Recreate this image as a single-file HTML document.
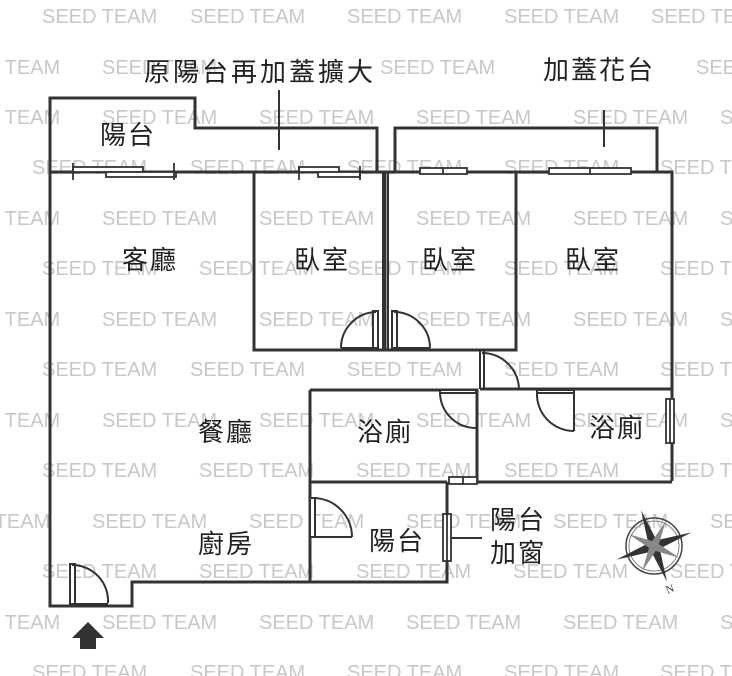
<!DOCTYPE html>
<html><head><meta charset="utf-8"><style>
html,body{margin:0;padding:0;background:#fff}
svg{display:block}
.w{font-family:"Liberation Sans",sans-serif;font-size:20px;fill:#c8c8c8}
.l{font-family:"Liberation Sans","Noto Sans CJK TC",sans-serif;font-size:26px;fill:#222;text-anchor:middle;dominant-baseline:central;letter-spacing:2px}
</style></head><body>
<svg width="732" height="676" viewBox="0 0 732 676" xmlns="http://www.w3.org/2000/svg">
<g class="w">
<text x="42" y="23">SEED TEAM</text><text x="190" y="23">SEED TEAM</text><text x="347" y="23">SEED TEAM</text><text x="504" y="23">SEED TEAM</text><text x="651" y="23">SEED TEAM</text>
<text x="-55" y="74">SEED TEAM</text><text x="102" y="74">SEED TEAM</text><text x="380" y="74">SEED TEAM</text><text x="696" y="74">SEED TEAM</text>
<text x="-55" y="124">SEED TEAM</text><text x="102" y="124">SEED TEAM</text><text x="259" y="124">SEED TEAM</text><text x="416" y="124">SEED TEAM</text><text x="573" y="124">SEED TEAM</text><text x="720" y="124">SEED TEAM</text>
<text x="32" y="174">SEED TEAM</text><text x="190" y="174">SEED TEAM</text><text x="347" y="174">SEED TEAM</text><text x="504" y="174">SEED TEAM</text><text x="660" y="174">SEED TEAM</text>
<text x="-55" y="225">SEED TEAM</text><text x="102" y="225">SEED TEAM</text><text x="259" y="225">SEED TEAM</text><text x="416" y="225">SEED TEAM</text><text x="573" y="225">SEED TEAM</text><text x="720" y="225">SEED TEAM</text>
<text x="42" y="275">SEED TEAM</text><text x="199" y="275">SEED TEAM</text><text x="347" y="275">SEED TEAM</text><text x="504" y="275">SEED TEAM</text><text x="660" y="275">SEED TEAM</text>
<text x="-55" y="326">SEED TEAM</text><text x="102" y="326">SEED TEAM</text><text x="259" y="326">SEED TEAM</text><text x="416" y="326">SEED TEAM</text><text x="573" y="326">SEED TEAM</text><text x="720" y="326">SEED TEAM</text>
<text x="42" y="376">SEED TEAM</text><text x="190" y="376">SEED TEAM</text><text x="347" y="376">SEED TEAM</text><text x="504" y="376">SEED TEAM</text><text x="660" y="376">SEED TEAM</text>
<text x="-55" y="427">SEED TEAM</text><text x="102" y="427">SEED TEAM</text><text x="259" y="427">SEED TEAM</text><text x="416" y="427">SEED TEAM</text><text x="573" y="427">SEED TEAM</text><text x="720" y="427">SEED TEAM</text>
<text x="42" y="477">SEED TEAM</text><text x="199" y="477">SEED TEAM</text><text x="356" y="477">SEED TEAM</text><text x="504" y="477">SEED TEAM</text><text x="660" y="477">SEED TEAM</text>
<text x="-65" y="528">SEED TEAM</text><text x="92" y="528">SEED TEAM</text><text x="249" y="528">SEED TEAM</text><text x="406" y="528">SEED TEAM</text><text x="553" y="528">SEED TEAM</text><text x="710" y="528">SEED TEAM</text>
<text x="42" y="578">SEED TEAM</text><text x="199" y="578">SEED TEAM</text><text x="356" y="578">SEED TEAM</text><text x="513" y="578">SEED TEAM</text><text x="670" y="578">SEED TEAM</text>
<text x="-55" y="629">SEED TEAM</text><text x="102" y="629">SEED TEAM</text><text x="259" y="629">SEED TEAM</text><text x="406" y="629">SEED TEAM</text><text x="563" y="629">SEED TEAM</text><text x="720" y="629">SEED TEAM</text>
<text x="32" y="679">SEED TEAM</text><text x="190" y="679">SEED TEAM</text><text x="347" y="679">SEED TEAM</text><text x="504" y="679">SEED TEAM</text><text x="660" y="679">SEED TEAM</text>
</g>
<g fill="none" stroke="#333" stroke-width="3">
<path d="M50,172 V98 H195 V128 H377 V172"/>
<path d="M395,172 V128 H657 V172"/>
<path d="M50,172 H672 V481"/>
<path d="M50,170 V606 H132 V582 H447 V482"/>
<path d="M254,172 V350 H385 V172"/>
<path d="M385,350 H516 V172"/>
<path d="M480,389 H672"/>
<path d="M310,390 H477 V482 H672"/>
<path d="M310,390 V582"/>
<path d="M310,482 H447"/>
</g>
<g stroke="#333" stroke-width="2" fill="none">
<line x1="279" y1="90" x2="279" y2="150"/>
<line x1="604" y1="110" x2="604" y2="147"/>
<line x1="447" y1="538" x2="482" y2="538"/>
<line x1="480" y1="350" x2="480" y2="389"/><line x1="484" y1="350" x2="484" y2="389"/>
<line x1="383" y1="350" x2="383" y2="172"/><line x1="388" y1="350" x2="388" y2="172"/>
</g>
<g stroke="#333" stroke-width="1.8" fill="#fff">
<rect x="73" y="167" width="70" height="5"/><rect x="106" y="172" width="70" height="5"/>
<line x1="73" y1="163" x2="73" y2="180"/><line x1="174" y1="163" x2="174" y2="180"/>
<rect x="299" y="167" width="40" height="5"/><rect x="318" y="172" width="42" height="5"/>
<line x1="299" y1="166" x2="299" y2="180"/><line x1="360" y1="166" x2="360" y2="180"/>
<rect x="420" y="168" width="47" height="6"/><line x1="443" y1="168" x2="443" y2="174"/>
<rect x="549" y="168" width="82" height="6"/><line x1="590" y1="168" x2="590" y2="174"/>
<rect x="666" y="399" width="8" height="44"/><line x1="670" y1="399" x2="670" y2="443"/>
<rect x="443" y="514" width="8" height="47"/><line x1="447" y1="514" x2="447" y2="561"/>
<rect x="449" y="477" width="28" height="7"/><line x1="463" y1="477" x2="463" y2="484"/>
</g>
<g stroke="#333" stroke-width="2" fill="#fff">
<rect x="70" y="564" width="5" height="41"/><path d="M72,565 A36,36 0 0 1 108,603" fill="none"/><line x1="70" y1="604" x2="108" y2="604"/>
<rect x="373" y="311" width="5" height="39"/><path d="M376,312 A36,36 0 0 0 341,348" fill="none"/><line x1="341" y1="348" x2="378" y2="348"/>
<rect x="392" y="311" width="5" height="39"/><path d="M394,312 A36,36 0 0 1 430,348" fill="none"/><line x1="392" y1="348" x2="430" y2="348"/>
<path d="M482,353 A37,37 0 0 1 519,390" fill="none"/>
<rect x="440" y="390" width="36" height="3"/><path d="M440,392 A36,36 0 0 0 476,428" fill="none"/>
<rect x="537" y="390" width="37" height="3"/><line x1="574" y1="390" x2="574" y2="431"/><path d="M537,392 A37,37 0 0 0 574,431" fill="none"/>
<rect x="310" y="498" width="5" height="39"/><path d="M313,498 A39,39 0 0 1 352,537" fill="none"/><line x1="313" y1="537" x2="352" y2="537"/>
</g>
<path d="M88,622 L104,638 H96 V649 H80 V638 H72 Z" fill="#333"/>
<g transform="translate(654,546)">
<circle r="28" fill="none" stroke="#444" stroke-width="1.5"/><circle r="25" fill="none" stroke="#666" stroke-width="0.8"/>
<g transform="rotate(-20)" fill="#333">
<path d="M0,-38 L5,0 L0,38 L-5,0 Z"/><path d="M-40,0 L0,-5 L40,0 L0,5 Z"/>
<path d="M-20,-20 L3,-3 L20,20 L-3,3 Z" fill="#888"/><path d="M20,-20 L3,3 L-20,20 L-3,-3 Z" fill="#888"/>
</g>
<text x="12" y="48" font-family="Liberation Serif,serif" font-size="11" fill="#333" transform="rotate(-20 12 44)">N</text>
</g>
<g class="l">
<text x="260" y="72" style="letter-spacing:3px">原陽台再加蓋擴大</text>
<text x="599" y="70">加蓋花台</text>
<text x="128" y="135">陽台</text>
<text x="150" y="260">客廳</text>
<text x="322" y="260">臥室</text>
<text x="450" y="260">臥室</text>
<text x="593" y="260">臥室</text>
<text x="226" y="432">餐廳</text>
<text x="385" y="432">浴廁</text>
<text x="617" y="428">浴廁</text>
<text x="226" y="544">廚房</text>
<text x="397" y="541">陽台</text>
<text x="518" y="520">陽台</text>
<text x="518" y="553">加窗</text>
</g>
</svg>
</body></html>
